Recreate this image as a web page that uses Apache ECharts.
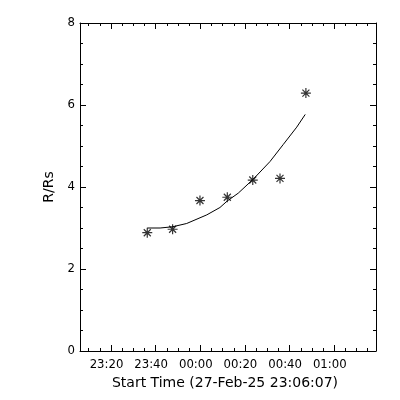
<!DOCTYPE html>
<html>
<head>
<meta charset="utf-8">
<script src="https://cdn.jsdelivr.net/npm/echarts@6/dist/echarts.min.js"></script>
<style>html,body{margin:0;padding:0;background:#fff;}#c{width:400px;height:400px;}</style>
</head>
<body>
<div id="c"></div>
<script>
// x values are minutes after 23:00 on 27-Feb-25
const xStart = 6 + 7 / 60;      // 23:06:07
const xEnd = 138.7;
const tickMinutes = [20, 40, 60, 80, 100, 120];
const tickLabels = ['23:20', '23:40', '00:00', '00:20', '00:40', '01:00'];
const minorMinutes = [10, 15, 20, 25, 30, 35, 40, 45, 50, 55, 60, 65, 70, 75, 80, 85, 90, 95, 100, 105, 110, 115, 120, 125, 130, 135];
const obsTime = [36.25, 47.6, 59.85, 72.1, 83.5, 95.7, 107.3];
const obsR = [2.885, 2.97, 3.67, 3.75, 4.17, 4.21, 6.29];
const fitTime = [36.3, 42.0, 47.6, 53.9, 62.9, 68.8, 72.1, 77.0, 83.7, 91.2, 97.2, 103.2, 107.0];
const fitR = [3.00, 3.00, 3.03, 3.11, 3.32, 3.50, 3.66, 3.85, 4.19, 4.62, 5.04, 5.46, 5.77];
const yTitle = 'R/Rs';
const xTitle = 'Start Time (27-Feb-25 23:06:07)';

const chart = echarts.init(document.getElementById('c'), null, {renderer: 'canvas'});
const black = '#000';
const labelFont = {fontFamily: "'DejaVu Sans Condensed', 'Liberation Sans', sans-serif", fontSize: 13, color: black};
const mkX = (pos, ticks, len, withLine, withLabel) => ({
  type: 'value', position: pos, min: xStart, max: xEnd, gridIndex: 0,
  axisLine: {show: withLine, onZero: false, lineStyle: {color: black, width: 1}},
  axisTick: {show: true, inside: true, length: len, customValues: ticks, lineStyle: {color: black, width: 1}},
  axisLabel: withLabel ? Object.assign({
    show: true, margin: 7, customValues: tickMinutes, padding: [0, 9, 0, 0],
    formatter: v => { const i = tickMinutes.findIndex(t => Math.abs(t - v) < 1e-6); return i >= 0 ? tickLabels[i] : ''; }
  }, labelFont) : {show: false},
  splitLine: {show: false}
});
const mkY = (pos, withLabel) => ({
  type: 'value', position: pos, min: 0, max: 8, interval: 2,
  axisLine: {show: true, onZero: false, lineStyle: {color: black, width: 1}},
  axisTick: {show: true, inside: true, length: 6, lineStyle: {color: black, width: 1}},
  minorTick: {show: true, splitNumber: 4, length: 3, lineStyle: {color: black, width: 1}},
  axisLabel: withLabel ? Object.assign({show: true, margin: 5}, labelFont) : {show: false},
  splitLine: {show: false}, minorSplitLine: {show: false}
});
const xb = mkX('bottom', tickMinutes, 6, true, true);
xb.name = xTitle;
xb.nameLocation = 'middle';
xb.nameGap = 22;
xb.nameTextStyle = {fontFamily: 'DejaVu Sans', fontSize: 14, color: black, padding: [0, 6, 0, 0]};
const yl = mkY('left', true);
yl.name = yTitle;
yl.nameLocation = 'middle';
yl.nameGap = 21;
yl.nameRotate = 90;
yl.nameTextStyle = {fontFamily: 'DejaVu Sans', fontSize: 14, color: black};

const star = 'path://M0,5L10,5M5,0L5,10M1.5,1.5L8.5,8.5M8.5,1.5L1.5,8.5';
chart.setOption({
  animation: false,
  backgroundColor: '#fff',
  grid: {left: 80, right: 24, top: 23, bottom: 49, containLabel: false},
  xAxis: [xb, mkX('bottom', minorMinutes, 3, false, false), mkX('top', tickMinutes, 6, true, false), mkX('top', minorMinutes, 3, false, false)],
  yAxis: [yl, mkY('right', false)],
  series: [
    {type: 'line', xAxisIndex: 0, yAxisIndex: 0, data: fitTime.map((t, i) => [t, fitR[i]]),
     showSymbol: false, symbol: 'none', smooth: false, lineStyle: {color: black, width: 1}},
    {type: 'scatter', xAxisIndex: 0, yAxisIndex: 0, data: obsTime.map((t, i) => [t, obsR[i]]),
     symbol: star, symbolSize: 10, itemStyle: {color: 'none', borderColor: black, borderWidth: 1.2}}
  ]
});
</script>
</body>
</html>
